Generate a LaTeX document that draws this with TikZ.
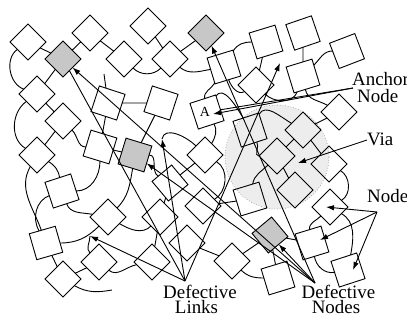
\documentclass[tikz,border=0pt]{standalone}
\usepackage{fontspec}
\setmainfont{Liberation Serif}
\usetikzlibrary{arrows.meta}
% place a box node and remember its rotation
\newcommand\boxat[5][]{%
  \expandafter\xdef\csname rot#2\endcsname{#5}%
  \node[box,rotate=#5,#1] (#2) at (#3,-#4) {};}
% curved link: leaves #1 at global angle #2, enters #3 from global angle #4
\newcommand\curvelink[4]{%
  \pgfmathtruncatemacro\lkA{mod(#2-\csname rot#1\endcsname+720,360)}%
  \pgfmathtruncatemacro\lkB{mod(#4-\csname rot#3\endcsname+720,360)}%
  \draw[link] (#1.\lkA) to[out=#2,in=#4] (#3.\lkB);}
\begin{document}
\begin{tikzpicture}[x=1bp,y=1bp,
  box/.style={draw,line width=0.9bp,minimum size=25.5bp,inner sep=0pt,outer sep=0pt},
  sqr/.style={minimum size=27bp},
  bad/.style={fill=black!22},
  link/.style={line width=0.9bp},
  ptr/.style={line width=0.9bp,-{Latex[length=8bp,width=5.5bp]}},
  lbl/.style={font=\fontsize{19}{13.5}\selectfont,inner sep=0pt,anchor=base west},
  lblc/.style={font=\fontsize{19}{13.5}\selectfont,inner sep=0pt,anchor=base}]
\useasboundingbox (0,0) rectangle (407,-320);
% via region
\node (via) [circle,minimum size=104bp,inner sep=0pt,fill=black!7,draw=black!40,dotted,line width=0.7bp] at (277,-157) {};
% nodes
\boxat{n1}{28}{42}{45}
\boxat[bad]{n2}{63}{59}{45}
\boxat{n3}{90}{33}{45}
\boxat{n4}{124}{59}{45}
\boxat{n5}{148}{26}{45}
\boxat[bad]{n6}{206}{33}{45}
\boxat{n7}{170}{59}{45}
\boxat[sqr]{n8}{224}{67}{17}
\boxat[sqr]{n9}{266}{42}{17}
\boxat{n10}{256}{85}{45}
\boxat[sqr]{n11}{303}{33}{19}
\boxat[sqr]{n12}{347}{51}{21}
\boxat[sqr]{n13}{303}{76}{17}
\boxat{n14}{339}{112}{45}
\boxat{n15}{37}{94}{45}
\boxat[sqr]{n16}{108}{103}{-18}
\boxat[sqr]{n17}{161}{103}{-18}
\boxat[sqr]{n18}{207}{112}{18}
\boxat{n19}{63}{121}{45}
\boxat{n20}{37}{155}{45}
\boxat[sqr]{n21}{100}{147}{-17}
\boxat[sqr,bad]{n22}{135}{155}{-17}
\boxat{n23}{205}{155}{45}
\boxat[sqr]{n24}{250}{130}{18}
\boxat{n25}{303}{130}{45}
\boxat{n26}{277}{156}{45}
\boxat{n27}{329}{164}{45}
\boxat{n28}{295}{190}{45}
\boxat[sqr]{n29}{250}{199}{17}
\boxat{n30}{203}{206}{45}
\boxat{n31}{170}{183}{40}
\boxat{n32}{108}{217}{45}
\boxat{n33}{160}{217}{45}
\boxat{n34}{187}{243}{45}
\boxat{n35}{152}{262}{45}
\boxat{n36}{232}{261}{45}
\boxat[sqr]{n37}{62}{191}{18}
\boxat[sqr]{n38}{46}{243}{16}
\boxat{n39}{63}{279}{45}
\boxat{n40}{99}{262}{45}
\boxat[bad]{n42}{270}{235}{40}
\boxat{n43}{330}{207}{45}
\boxat[sqr]{n44}{312}{243}{17}
\boxat[sqr]{n45}{348}{270}{18}
\boxat[sqr]{n46}{278}{278}{17}
\node (alab) at (205,-112) {\fontsize{14}{14}\selectfont A};
% straight links
\draw[link] (n1)--(n2) (n2)--(n3) (n3)--(n4) (n2)--(n15) (n5)--(n7) (n7)--(n6)
  (n11)--(n13) (n9)--(n10) (n15)--(n19) (n19)--(n20) (n16)--(n21) (n21)--(n22)
  (n17)--(n22) (n16)--(n17) (n25)--(n14) (n25)--(n26) (n25)--(n27) (n26)--(n28)
  (n30)--(n29) (n31)--(n23) (n31)--(n33) (n33)--(n35) (n34)--(n36) (n36)--(n42)
  (n42)--(n44) (n42)--(n46) (n38)--(n39) (n39)--(n40);
% curved links
\curvelink{n1}{215}{n15}{160}
\curvelink{n4}{-45}{n7}{-135}
\curvelink{n7}{-40}{n8}{190}
\curvelink{n8}{240}{n18}{100}
\curvelink{n8}{60}{n9}{180}
\curvelink{n8}{-70}{n10}{210}
\curvelink{n13}{45}{n12}{180}
\curvelink{n13}{-80}{n14}{150}
\curvelink{n13}{250}{n10}{-45}
\curvelink{n24}{60}{n25}{150}
\curvelink{n24}{-60}{n26}{180}
\curvelink{n26}{225}{n29}{80}
\curvelink{n27}{-30}{n43}{30}
\curvelink{n18}{-60}{n23}{60}
\curvelink{n18}{60}{n24}{120}
\curvelink{n23}{-30}{n30}{30}
\curvelink{n15}{215}{n20}{150}
\curvelink{n19}{-45}{n21}{180}
\curvelink{n20}{240}{n38}{110}
\curvelink{n37}{200}{n38}{120}
\curvelink{n20}{-30}{n37}{100}
\curvelink{n21}{-90}{n37}{0}
\curvelink{n37}{-70}{n32}{170}
\curvelink{n38}{0}{n32}{225}
\curvelink{n40}{-40}{n35}{190}
\curvelink{n32}{-30}{n33}{225}
\curvelink{n22}{-100}{n32}{45}
\curvelink{n22}{0}{n31}{150}
\curvelink{n36}{-45}{n46}{180}
\curvelink{n44}{100}{n43}{225}
\curvelink{n44}{-80}{n45}{190}
\curvelink{n43}{-30}{n45}{80}
% broken link ends
\coordinate (w1) at (112,-290);
\coordinate (w2) at (90,-236);
\coordinate (w3) at (104,-74);
\coordinate (d1) at (162,-139);
\draw[link] (n39.285) to[out=-30,in=190] (w1);
\draw[link] (n40.90) to[out=135,in=-90] (w2);
\draw[link] (n16) -- (w3);
\draw[link] (d1) to[out=80,in=135] (n23.90);
% pointers
\coordinate (dl) at (185,-281);
\coordinate (dn) at (315,-283);
\coordinate (t6) at (280,-63);
\draw[ptr] (dn) -- (n2);
\draw[link] (dl) -- (n2);
\draw[ptr] (dn) -- (n6);
\draw[ptr] (dn) -- (n22);
\draw[ptr] (dn) -- (n42);
\draw[ptr] (dl) -- (t6);
\draw[ptr] (dl) -- (d1);
\draw[ptr] (dl) -- (w2);
\coordinate (an) at (353,-88);
\coordinate (ta) at (213,-114);
\draw[ptr] (an) -- (ta);
\draw[link] (an) -- (n18);
\coordinate (vl) at (367,-140);
\coordinate (tv) at (298,-163);
\draw[ptr] (vl) -- (tv);
\coordinate (nl) at (377,-212);
\coordinate (tn1) at (326,-207);
\coordinate (tn2) at (320,-240);
\coordinate (tn3) at (353,-270);
\draw[ptr] (nl) -- (tn1);
\draw[ptr] (nl) -- (tn2);
\draw[ptr] (nl) -- (tn3);
% labels
\node[lbl] (lanchor) at (352,-85) {Anchor};
\node[lbl] (lnode1) at (357,-102) {Node};
\node[lbl] (lvia) at (367,-145) {Via};
\node[lbl] (lnode2) at (367,-202) {Node};
\node[lblc] (ldl1) at (200,-298) {Defective};
\node[lblc] (ldl2) at (196.5,-313) {Links};
\node[lblc] (ldn1) at (338.5,-298) {Defective};
\node[lblc] (ldn2) at (336,-313) {Nodes};
\end{tikzpicture}
\end{document}
